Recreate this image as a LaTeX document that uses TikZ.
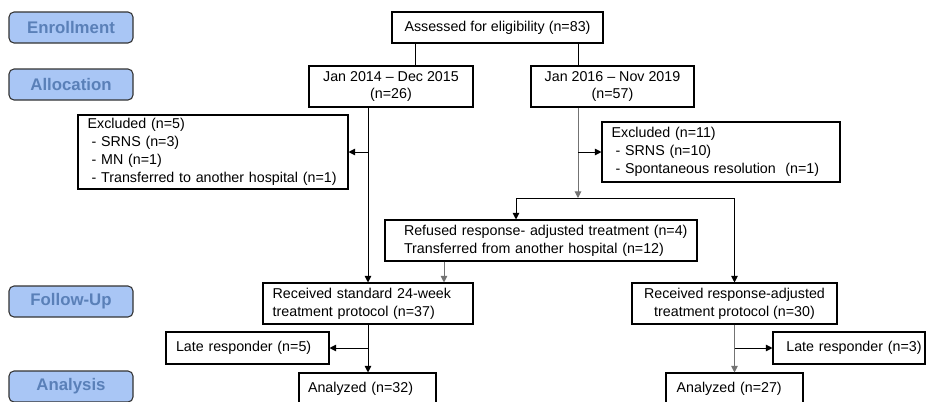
\documentclass[tikz,border=0pt]{standalone}
\usepackage{fontspec}
\setmainfont{Liberation Sans}
\usetikzlibrary{positioning, arrows.meta, calc}
\usepackage{xcolor}
\definecolor{phasefill}{HTML}{A9C6F5}
\definecolor{phasetext}{HTML}{5A80B8}

\begin{document}
\begin{tikzpicture}[
    x=0.75pt, y=-0.75pt,
    box/.style={draw, rectangle, line width=0.8pt, align=center, inner sep=0pt, font=\fontsize{10.7}{13.4}\selectfont, minimum height=30.75pt},
    lbox/.style={box, align=left, text width=#1},
    pad/.style={execute at begin node={\leftskip=#1}},
    phase/.style={draw=black!80, rectangle, rounded corners=3.75pt, line width=0.8pt, fill=phasefill, text=phasetext, font=\fontsize{12.6}{14}\selectfont\bfseries, minimum width=93pt, minimum height=23.25pt},
    arrow/.style={-{Triangle[length=5pt, width=5pt]}, line width=0.75pt},
    gline/.style={draw=black!55}
]
\useasboundingbox (0,0) rectangle (926,401);

% stage labels on the left
\node[phase] (enroll) at (71,27.5) {Enrollment};
\node[phase] (alloc) at (71,84.5) {Allocation};
\node[phase] (follow) at (71,301.5) {Follow-Up};
\node[phase] (analysis) at (71,386.5) {Analysis};

% flow boxes
\node[box, minimum width=158.25pt, minimum height=23.25pt] (assessed) at (497.5,27.5) {Assessed for eligibility (n=83)};
\node[box, minimum width=123pt] (jan14) at (391,86.5) {Jan 2014 -- Dec 2015\\(n=26)};
\node[box, minimum width=122.25pt] (jan16) at (612.5,86.5) {Jan 2016 -- Nov 2019\\(n=57)};

\node[lbox=202.5pt, pad=7.25pt, minimum height=55.5pt] (excl1) at (213,152) {Excluded (n=5)\\\hspace*{3pt}- SRNS (n=3)\\\hspace*{3pt}- MN (n=1)\\\hspace*{3pt}- Transferred to another hospital (n=1)};
\node[lbox=178.5pt, pad=7.25pt, minimum height=45pt] (excl2) at (721,152) {Excluded (n=11)\\\hspace*{3pt}- SRNS (n=10)\\\hspace*{3pt}- Spontaneous resolution~~(n=1)};

\node[lbox=234pt, pad=14.25pt] (refused) at (541,240.5) {Refused response- adjusted treatment (n=4)\\Transferred from another hospital (n=12)};

\node[lbox=157.5pt, pad=7.25pt] (recstd) at (368,303.5) {Received standard 24-week\\treatment protocol (n=37)};
\node[box, minimum width=153.75pt] (recadj) at (734.5,303.5) {Received response-adjusted\\treatment protocol (n=30)};

\node[lbox=122.25pt, pad=7.5pt, minimum height=24pt] (late1) at (247.5,348) {Late responder (n=5)};
\node[lbox=114pt, pad=10pt, minimum height=24pt] (late2) at (849,348) {Late responder (n=3)};

\node[lbox=102.75pt, pad=6.75pt, minimum height=23.25pt] (anal1) at (367.5,388.5) {Analyzed (n=32)};
\node[lbox=102.75pt, pad=8pt, minimum height=23.25pt] (anal2) at (734.5,388.5) {Analyzed (n=27)};

% branch points
\coordinate (drop) at (415,50);
\coordinate (fork) at (578,198);
\coordinate (forkL) at (516,198);
\coordinate (join) at (444,270);

% connectors
\draw[line width=0.75pt] (assessed.south -| drop) -- (jan14.north -| drop);
\draw[line width=0.75pt] (assessed.south -| fork) -- (jan16.north -| fork);

\draw[arrow] (jan14.south -| recstd.north) -- (recstd.north);
\draw[arrow] (excl1.east -| recstd.north) -- (excl1.east);

\draw[arrow, gline] (jan16.south -| fork) -- (fork);
\draw[arrow] (excl2.west -| fork) -- (excl2.west);
\draw[arrow] (forkL) -- (forkL |- refused.north);
\draw[arrow] (forkL) -| (recadj.north);

\draw[arrow, gline] (join |- refused.south) -- (join |- recstd.north);

\draw[arrow] (recstd.south) -- (anal1.north -| recstd.south);
\draw[arrow] (late1.east -| recstd.south) -- (late1.east);

\draw[arrow, gline] (recadj.south) -- (anal2.north);
\draw[arrow] (late2.west -| recadj.south) -- (late2.west);

\end{tikzpicture}
\end{document}
